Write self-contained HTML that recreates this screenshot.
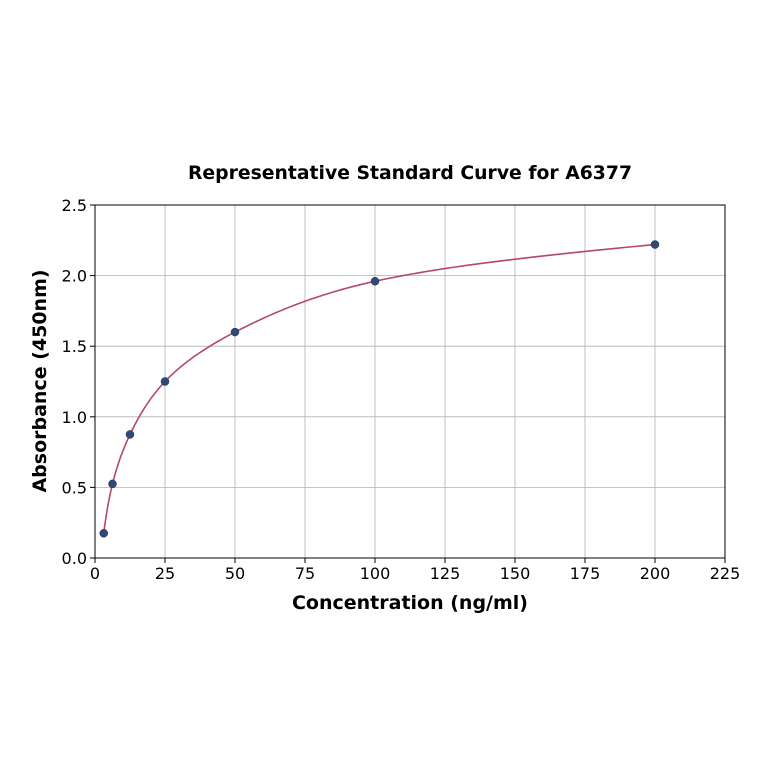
<!DOCTYPE html>
<html><head><meta charset="utf-8"><style>
body{margin:0;background:#fff;}
svg{display:block;font-family:"DejaVu Sans","Liberation Sans",sans-serif;}
</style></head><body>
<svg id="chart" width="764" height="764">
<text x="410" y="179" text-anchor="middle" font-size="18.8" font-weight="bold">Representative Standard Curve for A6377</text>
<g id="grid"></g>
<g id="ticks"></g>
<rect x="95" y="205" width="630" height="353" fill="none" stroke="#000" stroke-width="1"/>
<path id="curve" fill="none" stroke="#b5476b" stroke-width="1.6"/>
<g id="points"></g>
<text x="410" y="609" text-anchor="middle" font-size="19" font-weight="bold">Concentration (ng/ml)</text>
<text transform="translate(46,381) rotate(-90)" text-anchor="middle" font-size="19" font-weight="bold">Absorbance (450nm)</text>
</svg>
<script>
const xConc = [3.125, 6.25, 12.5, 25, 50, 100, 200];
const yAbs = [0.175, 0.525, 0.875, 1.25, 1.6, 1.96, 2.22];
const xTicks = [0, 25, 50, 75, 100, 125, 150, 175, 200, 225];
const yTicks = [0.0, 0.5, 1.0, 1.5, 2.0, 2.5];
const NS = "http://www.w3.org/2000/svg";
const X = v => 95 + v * 630 / 225;
const Y = v => 558 - v * 353 / 2.5;
function mk(tag, attrs, parent) {
  const e = document.createElementNS(NS, tag);
  for (const k in attrs) e.setAttribute(k, attrs[k]);
  parent.appendChild(e);
  return e;
}
const grid = document.getElementById('grid'), ticks = document.getElementById('ticks');
xTicks.forEach(t => {
  const l = mk('line', {x1: X(t), x2: X(t), y1: 205, y2: 558, stroke: '#b0b0b0', 'stroke-width': 0.8}, grid);
  
  
  mk('line', {x1: X(t), x2: X(t), y1: 558, y2: 563, stroke: '#000'}, ticks);
  const tx = mk('text', {x: X(t), y: 579, 'text-anchor': 'middle', 'font-size': 16}, ticks);
  tx.textContent = t;
  
  
});
yTicks.forEach(t => {
  const l = mk('line', {x1: 95, x2: 725, y1: Y(t), y2: Y(t), stroke: '#b0b0b0', 'stroke-width': 0.8}, grid);
  
  
  mk('line', {x1: 90, x2: 95, y1: Y(t), y2: Y(t), stroke: '#000'}, ticks);
  const tx = mk('text', {x: 87, y: Y(t) + 6, 'text-anchor': 'end', 'font-size': 16}, ticks);
  tx.textContent = t.toFixed(1);
  
  
});
const lx = xConc.map(Math.log), n = lx.length;
const d = [], m = [];
for (let i = 0; i < n - 1; i++) d.push((yAbs[i+1] - yAbs[i]) / (lx[i+1] - lx[i]));
m[0] = d[0]; m[n-1] = d[n-2];
for (let i = 1; i < n - 1; i++) m[i] = (d[i-1] * d[i] <= 0) ? 0 : 2 / (1/d[i-1] + 1/d[i]);
let p = '';
for (let i = 0; i < n - 1; i++) {
  const h = lx[i+1] - lx[i];
  for (let s = 0; s <= 40; s++) {
    const t = s / 40, t2 = t*t, t3 = t2*t;
    const yv = (2*t3-3*t2+1)*yAbs[i] + (t3-2*t2+t)*h*m[i] + (-2*t3+3*t2)*yAbs[i+1] + (t3-t2)*h*m[i+1];
    const xv = Math.exp(lx[i] + t*h);
    p += (p ? 'L' : 'M') + X(xv).toFixed(2) + ',' + Y(yv).toFixed(2);
  }
}
document.getElementById('curve').setAttribute('d', p);
const pts = document.getElementById('points');
xConc.forEach((x, i) => {
  const c = mk('circle', {cx: X(x), cy: Y(yAbs[i]), r: 4, fill: '#2f4a78', stroke: '#1e2f50', 'stroke-width': 0.5}, pts);
  
  
});
</script>
</body></html>
